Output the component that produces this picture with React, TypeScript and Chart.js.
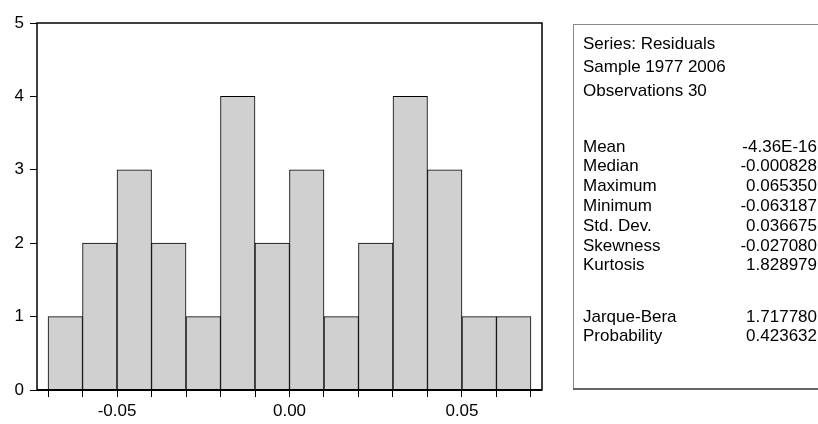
import React, { useEffect, useRef } from "react";
import { Chart, registerables } from "chart.js";
Chart.register(...registerables);

const binCenters = [-0.065, -0.055, -0.045, -0.035, -0.025, -0.015, -0.005, 0.005, 0.015, 0.025, 0.035, 0.045, 0.055, 0.065];
const counts = [1, 2, 3, 2, 1, 4, 2, 3, 1, 2, 4, 3, 1, 1];
const xTickValues = [-0.07, -0.06, -0.05, -0.04, -0.03, -0.02, -0.01, 0, 0.01, 0.02, 0.03, 0.04, 0.05, 0.06, 0.07];
const xLabelledTicks = [-0.05, 0, 0.05];
const yTickValues = [0, 1, 2, 3, 4, 5];
const headerLines = ["Series: Residuals", "Sample 1977 2006", "Observations 30"];
const statNames = ["Mean", "Median", "Maximum", "Minimum", "Std. Dev.", "Skewness", "Kurtosis"];
const statValues = ["-4.36E-16", "-0.000828", "0.065350", "-0.063187", "0.036675", "-0.027080", "1.828979"];
const testNames = ["Jarque-Bera", "Probability"];
const testValues = ["1.717780", "0.423632"];

const FONT = "Liberation Sans, Arial, sans-serif";

export default function App() {
  const ref = useRef<HTMLCanvasElement | null>(null);
  useEffect(() => {
    document.body.style.margin = "0";
    const canvas = ref.current;
    if (!canvas) return;

    const framePlugin = {
      id: "frame",
      afterDraw(chart: any) {
        const { ctx, chartArea: a } = chart;
        ctx.save();
        ctx.strokeStyle = "#000";
        ctx.lineWidth = 1.5;
        ctx.strokeRect(a.left, a.top, a.right - a.left, a.bottom - a.top);
        ctx.lineWidth = 2;
        ctx.beginPath();
        ctx.moveTo(a.left, a.bottom);
        ctx.lineTo(a.right, a.bottom);
        ctx.stroke();
        ctx.restore();
      },
    };

    const statsPlugin = {
      id: "stats",
      afterDraw(chart: any) {
        const ctx = chart.ctx;
        const bx = 573, by = 24, bw = 300, bh = 364;
        ctx.save();
        ctx.strokeStyle = "#888";
        ctx.lineWidth = 1;
        ctx.strokeRect(bx + 0.5, by + 0.5, bw, bh);
        ctx.strokeStyle = "#666";
        ctx.lineWidth = 2;
        ctx.beginPath();
        ctx.moveTo(bx, by + bh + 1);
        ctx.lineTo(bx + bw, by + bh + 1);
        ctx.stroke();
        ctx.fillStyle = "#000";
        ctx.font = `17px ${FONT}`;
        ctx.textBaseline = "middle";
        const lx = 583, rx = 817;
        const headerY = [44, 67.5, 91];
        headerLines.forEach((t, i) => {
          ctx.textAlign = "left";
          ctx.fillText(t, lx, headerY[i]);
        });
        statNames.forEach((t, i) => {
          const y = 147 + i * 19.8;
          ctx.textAlign = "left";
          ctx.fillText(t, lx, y);
          ctx.textAlign = "right";
          ctx.fillText(statValues[i], rx, y);
        });
        testNames.forEach((t, i) => {
          const y = 317 + i * 19.8;
          ctx.textAlign = "left";
          ctx.fillText(t, lx, y);
          ctx.textAlign = "right";
          ctx.fillText(testValues[i], rx, y);
        });
        ctx.restore();
      },
    };

    const chart = new Chart(canvas, {
      type: "bar",
      data: {
        datasets: [
          {
            data: binCenters.map((x, i) => ({ x, y: counts[i] })),
            backgroundColor: "#D0D0D0",
            borderColor: "#000",
            borderWidth: 1,
            barPercentage: 1,
            categoryPercentage: 1,
          },
        ],
      },
      options: {
        responsive: false,
        animation: false,
        events: [],
        layout: { padding: { top: 23, right: 276, left: 0, bottom: 0 } },
        plugins: { legend: { display: false }, tooltip: { enabled: false } },
        scales: {
          x: {
            type: "linear",
            offset: false,
            min: -0.0732,
            max: 0.0732,
            afterBuildTicks: (s: any) => {
              s.ticks = xTickValues.map((v) => ({ value: v }));
            },
            afterFit: (s: any) => {
              s.height = 34;
            },
            ticks: {
              autoSkip: false,
              maxRotation: 0,
              color: "#000",
              padding: 4,
              font: { family: FONT, size: 17 },
              callback: (v: any) =>
                xLabelledTicks.some((t) => Math.abs(t - v) < 1e-9) ? Number(v).toFixed(2) : "",
            },
            grid: { offset: false, drawOnChartArea: false, drawTicks: true, tickLength: 7, color: "#000", lineWidth: 1 },
            border: { display: false },
          },
          y: {
            type: "linear",
            min: 0,
            max: 5,
            afterBuildTicks: (s: any) => {
              s.ticks = yTickValues.map((v) => ({ value: v }));
            },
            afterFit: (s: any) => {
              s.width = 37;
            },
            ticks: { color: "#000", padding: 6, font: { family: FONT, size: 17 } },
            grid: { drawOnChartArea: false, drawTicks: true, tickLength: 7, color: "#000", lineWidth: 1 },
            border: { display: false },
          },
        },
      },
      plugins: [framePlugin, statsPlugin],
    });
    return () => chart.destroy();
  }, []);

  return (
    <div style={{ width: 818, height: 424, background: "#fff" }}>
      <canvas ref={ref} width={818} height={424} style={{ display: "block" }} />
    </div>
  );
}
